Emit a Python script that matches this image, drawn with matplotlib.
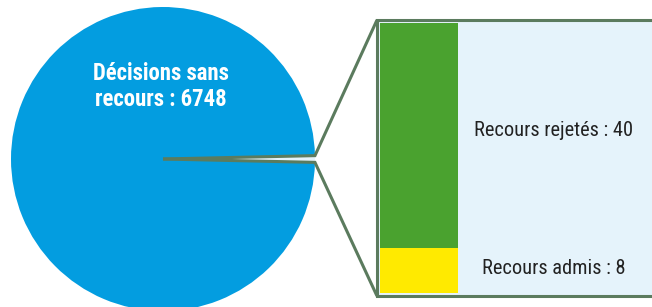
import matplotlib.pyplot as plt
import numpy as np
from matplotlib.patches import Rectangle
from matplotlib import font_manager

# data
pie_labels = ["Recours", "Décisions sans recours"]
pie_values = [48, 6748]
bar_labels = ["Recours admis", "Recours rejetés"]
bar_values = [8, 40]

blue = "#039de0"
light = "#e5f3fb"
edge = "#5b7b5e"
green = "#4aa22f"
yellow = "#ffea00"

names = {f.name for f in font_manager.fontManager.ttflist}
narrow = "Roboto"
for n in ["Liberation Sans Narrow", "Roboto Condensed", "Arial Narrow"]:
    if n in names:
        narrow = n
        break
fam = [narrow, "DejaVu Sans"]

W, H = 652, 307
fig = plt.figure(figsize=(W / 100, H / 100), dpi=100)
ax = fig.add_axes([0, 0, 1, 1])

# pie in pixel-like coordinates (y upwards)
cx, cy, r = 163, H - 159, 152
half = pie_values[0] / sum(pie_values) * 360 / 2
wedges, _ = ax.pie(pie_values, colors=[light, blue], startangle=-half,
                   center=(cx, cy), radius=r, counterclock=True,
                   wedgeprops=dict(linewidth=0))

ax.set_xlim(0, W)
ax.set_ylim(0, H)
ax.set_aspect("auto")
ax.axis("off")

# zoom box
bx0, by0, by1 = 377, H - 296, H - 20
ax.add_patch(Rectangle((bx0, by0), W + 10 - bx0, by1 - by0, facecolor=light,
                       edgecolor=edge, linewidth=2.2, zorder=1))

# wedge outline and connector lines
for a, yb in [(half, by1), (-half, by0)]:
    tx = cx + r * np.cos(np.radians(a))
    ty = cy + r * np.sin(np.radians(a))
    ax.plot([cx, tx, bx0], [cy, ty, yb], color=edge, lw=2.2,
            solid_capstyle="butt", solid_joinstyle="miter", zorder=3)

ax.text(cx - 2, H - 74, "Décisions sans", color="white", fontsize=16.4,
        fontweight="bold", ha="center", va="center", family=fam)
ax.text(cx - 2, H - 100, "recours : 6748", color="white", fontsize=16.4,
        fontweight="bold", ha="center", va="center", family=fam)

# stacked bar in its own axes
bax = fig.add_axes([380 / W, (H - 293) / H, (458 - 380) / W, (293 - 23) / H])
bottom = 0
for lab, v, c in zip(bar_labels, bar_values, [yellow, green]):
    bax.bar(0, v, bottom=bottom, width=1, color=c, linewidth=0)
    bottom += v
bax.set_xlim(-0.5, 0.5)
bax.set_ylim(0, sum(bar_values))
bax.axis("off")

ax.text(554, H - 131, f"{bar_labels[1]} : {bar_values[1]}", fontsize=14.7,
        color="#222222", ha="center", va="center", family=fam)
ax.text(554, H - 268, f"{bar_labels[0]} : {bar_values[0]}", fontsize=14.7,
        color="#222222", ha="center", va="center", family=fam)

fig.savefig("out.png", dpi=100)
